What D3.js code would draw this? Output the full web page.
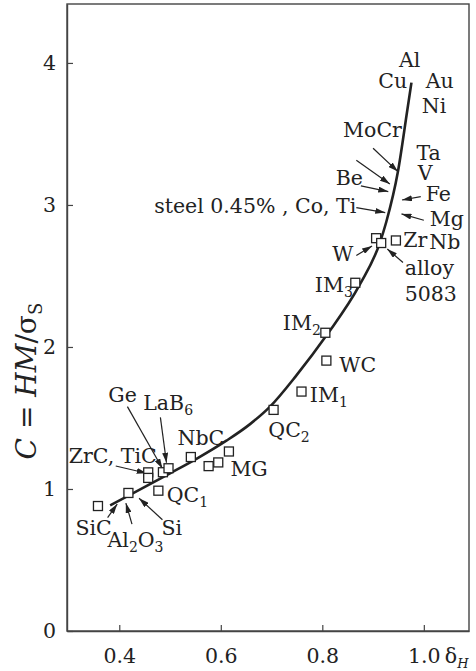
<!DOCTYPE html>
<html><head><meta charset="utf-8">
<script src="https://cdn.jsdelivr.net/npm/d3@7/dist/d3.min.js"></script>
<style>
body{margin:0;background:#fff}
svg{display:block}
text{font-family:"DejaVu Serif",serif;fill:#222}
</style>
</head><body>
<svg id="chart" width="476" height="671"></svg>
<script>
// ---- data ----
const xTicks = [0.4, 0.6, 0.8, 1.0];
const xTickLabels = ["0.4", "0.6", "0.8", "1.0"];
const yTicks = [0, 1, 2, 3, 4];
const yTickLabels = ["0", "1", "2", "3", "4"];

// trend curve
const curveDelta = [0.382, 0.421, 0.500, 0.552, 0.611, 0.657, 0.697, 0.749, 0.808, 0.874, 0.913, 0.926, 0.949, 0.9675, 0.9756];
const curveC     = [0.885, 0.958, 1.110, 1.212, 1.340, 1.455, 1.580, 1.800, 2.080, 2.440, 2.730, 2.880, 3.235, 3.669, 3.861];

// square markers
const pointNames = ["SiC", "Al2O3", "QC1", "ZrC", "TiC", "Ge", "LaB6", "NbC", "MG-a", "MG-b", "MG-c", "QC2", "IM1", "WC", "IM2", "IM3", "W", "alloy 5083", "Zr"];
const pointDelta = [0.358, 0.418, 0.477, 0.457, 0.457, 0.486, 0.497, 0.541, 0.576, 0.595, 0.616, 0.704, 0.759, 0.808, 0.806, 0.865, 0.906, 0.916, 0.945];
const pointC     = [0.880, 0.972, 0.988, 1.117, 1.078, 1.118, 1.146, 1.225, 1.161, 1.187, 1.264, 1.557, 1.686, 1.904, 2.100, 2.452, 2.766, 2.732, 2.750];

// annotation labels ("_d" = subscript digit), anchor in data units
const labelText  = ["Al", "Cu", "Au", "Ni", "MoCr", "Ta", "V", "Be", "Fe", "steel 0.45% , Co, Ti", "Mg", "Zr", "Nb", "W", "alloy", "5083", "IM_3", "IM_2", "WC", "IM_1", "QC_2", "MG", "NbC", "Ge", "LaB_6", "ZrC, TiC", "QC_1", "SiC", "Al_2O_3", "Si"];
const labelDelta = [0.9512, 0.9102, 1.0037, 0.9959, 0.8409, 0.9854, 0.9880, 0.8266, 1.0037, 0.8669, 1.0116, 0.9594, 1.0106, 0.8197, 0.9624, 0.9624, 0.7852, 0.7222, 0.8335, 0.7754, 0.6937, 0.6189, 0.5146, 0.3783, 0.4472, 0.3006, 0.4933, 0.3138, 0.3768, 0.4831];
const labelC     = [3.972, 3.820, 3.824, 3.646, 3.482, 3.320, 3.176, 3.137, 3.025, 2.944, 2.852, 2.704, 2.690, 2.602, 2.507, 2.327, 2.387, 2.120, 1.826, 1.613, 1.368, 1.088, 1.310, 1.609, 1.553, 1.183, 0.911, 0.673, 0.592, 0.676];
const labelAnchor = ["start","start","start","start","start","start","start","start","start","end","start","start","start","start","start","start","start","start","start","start","start","start","start","start","start","start","start","start","start","start"];

// arrows: tail -> head (data units)
const arrowTailDelta = [0.900, 0.867, 0.876, 0.867, 0.994, 1.000, 0.867, 0.959, 0.416, 0.481, 0.393, 0.377, 0.425, 0.485];
const arrowTailC     = [3.399, 3.315, 3.134, 2.981, 3.058, 2.892, 2.644, 2.595, 1.580, 1.504, 1.162, 0.799, 0.752, 0.783];
const arrowHeadDelta = [0.949, 0.933, 0.930, 0.924, 0.957, 0.956, 0.898, 0.928, 0.485, 0.493, 0.454, 0.396, 0.413, 0.439];
const arrowHeadC     = [3.235, 3.148, 3.094, 2.946, 3.035, 2.937, 2.711, 2.690, 1.144, 1.185, 1.111, 0.894, 0.901, 0.935];

// ---- chart ----
const W = 476, H = 671;
const m = {left: 67, right: 7, top: 4, bottom: 40};
const svg = d3.select("#chart");
const x = d3.scaleLinear().domain([0.297, 1.089]).range([m.left, W - m.right]);
const y = d3.scaleLinear().domain([0, 4.415]).range([H - m.bottom, m.top]);

const axisColor = "#444";
svg.append("rect").attr("x", m.left).attr("y", m.top)
  .attr("width", W - m.left - m.right).attr("height", H - m.top - m.bottom)
  .attr("fill", "none").attr("stroke", axisColor).attr("stroke-width", 1.4);

const xAxis = d3.axisBottom(x).tickValues(xTicks).tickSizeInner(-6).tickSizeOuter(0)
  .tickFormat((d, i) => xTickLabels[i]).tickPadding(17);
const gx = svg.append("g").attr("transform", `translate(0,${H - m.bottom})`).call(xAxis);
gx.select(".domain").attr("stroke", axisColor).attr("stroke-width", 1.4);
gx.selectAll(".tick line").attr("stroke", axisColor).attr("stroke-width", 1.2);
gx.selectAll(".tick text").attr("font-family", "DejaVu Serif").attr("font-size", 20.5).attr("fill", "#222");

const yAxis = d3.axisLeft(y).tickValues(yTicks).tickSizeInner(-6).tickSizeOuter(0)
  .tickFormat((d, i) => yTickLabels[i]).tickPadding(11);
const gy = svg.append("g").attr("transform", `translate(${m.left},0)`).call(yAxis);
gy.select(".domain").attr("stroke", axisColor).attr("stroke-width", 1.4);
gy.selectAll(".tick line").attr("stroke", axisColor).attr("stroke-width", 1.2);
gy.selectAll(".tick text").attr("font-family", "DejaVu Serif").attr("font-size", 20.5).attr("fill", "#222");

// x axis symbol delta_H
const xl = svg.append("text").attr("x", x(1.0) + 21).attr("y", H - m.bottom + 32).attr("font-size", 20.5);
xl.append("tspan").text("δ");
xl.append("tspan").attr("dy", 5).attr("font-size", 13).attr("font-style", "italic").text("H");

// y axis label
const yl = svg.append("text").attr("transform", `translate(36,${y(1.76)}) rotate(-90)`)
  .attr("text-anchor", "middle").attr("font-size", 28);
yl.append("tspan").attr("font-style", "italic").text("C");
yl.append("tspan").text(" = ");
yl.append("tspan").attr("font-style", "italic").text("HM");
yl.append("tspan").text("/σ");
yl.append("tspan").attr("dy", 6).attr("font-size", 18).text("S");

// curve
const line = d3.line().x(d => x(d[0])).y(d => y(d[1])).curve(d3.curveMonotoneX);
svg.append("path").datum(curveDelta.map((d, i) => [d, curveC[i]]))
  .attr("d", line).attr("fill", "none").attr("stroke", "#222").attr("stroke-width", 2.6);

// arrow marker
svg.append("defs").append("marker").attr("id", "ah").attr("viewBox", "0 0 10 6")
  .attr("refX", 10).attr("refY", 3).attr("markerWidth", 10).attr("markerHeight", 6)
  .attr("markerUnits", "userSpaceOnUse").attr("orient", "auto")
  .append("path").attr("d", "M0,0 L10,3 L0,6 Z").attr("fill", "#222");

svg.append("g").selectAll("line").data(arrowTailDelta).join("line")
  .attr("x1", (d, i) => x(d)).attr("y1", (d, i) => y(arrowTailC[i]))
  .attr("x2", (d, i) => x(arrowHeadDelta[i])).attr("y2", (d, i) => y(arrowHeadC[i]))
  .attr("stroke", "#222").attr("stroke-width", 1.2).attr("marker-end", "url(#ah)");

// squares
const s = 9;
svg.append("g").selectAll("rect").data(pointDelta).join("rect")
  .attr("x", d => x(d) - s / 2).attr("y", (d, i) => y(pointC[i]) - s / 2)
  .attr("width", s).attr("height", s)
  .attr("fill", "#fff").attr("stroke", "#222").attr("stroke-width", 1.3);

// labels
const lg = svg.append("g");
labelText.forEach((t, i) => {
  const el = lg.append("text").attr("x", x(labelDelta[i])).attr("y", y(labelC[i]))
    .attr("font-size", 20.5).attr("text-anchor", labelAnchor[i]);
  const parts = t.split(/_(\d)/);
  parts.forEach((p, k) => {
    if (p === "") return;
    if (k % 2 === 1) {
      el.append("tspan").attr("dy", 5).attr("font-size", 14).text(p);
    } else {
      const ts = el.append("tspan").text(p);
      if (k > 0) ts.attr("dy", -5);
    }
  });
});
</script>
</body></html>
